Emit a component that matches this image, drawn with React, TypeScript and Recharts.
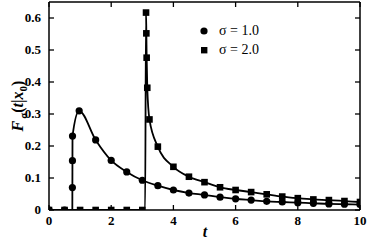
import React from 'react';
import { LineChart, Line, XAxis, YAxis, Legend } from 'recharts';

// sigma = 1.0 (circles)
const s1T = [0, 0.5, 0.75, 0.752, 0.754, 0.756, 0.97, 1.5, 2, 2.5, 3, 3.5, 4, 4.5, 5, 5.5, 6, 6.5, 7, 7.5, 8, 8.5, 9, 9.5, 10];
const s1F = [0, 0, 0, 0.07, 0.154, 0.231, 0.31, 0.219, 0.155, 0.119, 0.093, 0.076, 0.0625, 0.053, 0.047, 0.04, 0.035, 0.031, 0.027, 0.025, 0.023, 0.021, 0.019, 0.018, 0.017];
const s1NoMark = [2];

// sigma = 2.0 (squares)
const s2T = [0, 0.5, 1, 1.5, 2, 2.5, 3, 3.09, 3.12, 3.13, 3.14, 3.16, 3.23, 3.5, 4, 4.5, 5, 5.5, 6, 6.5, 7, 7.5, 8, 8.5, 9, 9.5, 10];
const s2F = [0, 0, 0, 0, 0, 0, 0, 0, 0.617, 0.552, 0.476, 0.382, 0.283, 0.198, 0.135, 0.104, 0.087, 0.071, 0.0625, 0.056, 0.049, 0.042, 0.037, 0.033, 0.031, 0.028, 0.025];
const s2NoMark = [7];

const xTicks = [0, 2, 4, 6, 8, 10];
const yTicks = [0, 0.1, 0.2, 0.3, 0.4, 0.5, 0.6];
const legendLabels = ['σ = 1.0', 'σ = 2.0'];

const s1Data = s1T.map((t, i) => ({ t, f: s1F[i], mark: !s1NoMark.includes(i) }));
const s2Data = s2T.map((t, i) => ({ t, f: s2F[i], mark: !s2NoMark.includes(i) }));

const FONT = "'Liberation Serif', 'Times New Roman', Times, serif";

const BottomTick = ({ x, y, payload }: any) => (
  <g>
    <line x1={x} y1={y} x2={x} y2={y - 5} stroke="#000" strokeWidth={1.3} />
    <text x={x} y={y + 15} textAnchor="middle" fontFamily={FONT} fontWeight="bold" fontSize={13} fill="#000">
      {payload.value}
    </text>
  </g>
);

const TopTick = ({ x, y }: any) => <line x1={x} y1={y} x2={x} y2={y + 5} stroke="#000" strokeWidth={1.3} />;

const LeftTick = ({ x, y, payload }: any) => (
  <g>
    <line x1={x} y1={y} x2={x + 5} y2={y} stroke="#000" strokeWidth={1.3} />
    <text x={x - 8} y={y + 4} textAnchor="end" fontFamily={FONT} fontWeight="bold" fontSize={13} fill="#000">
      {payload.value}
    </text>
  </g>
);

const RightTick = ({ x, y }: any) => <line x1={x} y1={y} x2={x - 5} y2={y} stroke="#000" strokeWidth={1.3} />;

const CircleDot = (props: any) => {
  const { cx, cy, payload, index } = props;
  if (!payload.mark) return <g key={`c${index}`} />;
  return <circle key={`c${index}`} cx={cx} cy={cy} r={3.6} fill="#000" />;
};

const SquareDot = (props: any) => {
  const { cx, cy, payload, index } = props;
  if (!payload.mark) return <g key={`s${index}`} />;
  return <rect key={`s${index}`} x={cx - 3.3} y={cy - 3.3} width={6.6} height={6.6} fill="#000" />;
};

const LegendBox = () => (
  <div style={{ fontFamily: FONT, fontSize: 14, color: '#000', lineHeight: '19px' }}>
    {legendLabels.map((label, i) => (
      <div key={label} style={{ display: 'flex', alignItems: 'center' }}>
        <svg width={13} height={10} style={{ marginRight: 7 }}>
          {i === 0 ? <circle cx={5} cy={5} r={3.6} fill="#000" /> : <rect x={2} y={2} width={6.4} height={6.4} fill="#000" />}
        </svg>
        <span>{label}</span>
      </div>
    ))}
  </div>
);

const YLabel = () => (
  <text transform="rotate(-90)" x={-106} y={23} textAnchor="middle" fontFamily={FONT} fontWeight="bold" fontSize={16} fill="#000">
    <tspan fontStyle="italic">F</tspan>
    <tspan fontSize={11} dy={4} dx={2}>σ</tspan>
    <tspan dy={-4}>(</tspan>
    <tspan fontStyle="italic">t</tspan>
    <tspan>|</tspan>
    <tspan fontStyle="italic">x</tspan>
    <tspan fontSize={11} dy={4}>0</tspan>
    <tspan dy={-4}>)</tspan>
  </text>
);

const XLabel = () => (
  <text x={205} y={237} textAnchor="middle" fontFamily={FONT} fontWeight="bold" fontStyle="italic" fontSize={16} fill="#000">
    t
  </text>
);

const axisStroke = { stroke: '#000', strokeWidth: 1.5 };

export default function App() {
  return (
    <div style={{ position: 'absolute', left: 0, top: 0, width: 368, height: 240, background: '#fff' }}>
      <LineChart width={368} height={240} margin={{ top: 1, right: 7, bottom: 0, left: 0 }}>
        <XAxis
          xAxisId="b"
          dataKey="t"
          type="number"
          domain={[0, 10]}
          ticks={xTicks}
          allowDataOverflow
          height={30}
          tickSize={0}
          tickMargin={0}
          tickLine={false}
          axisLine={axisStroke}
          tick={<BottomTick />}
          label={{ content: () => <XLabel /> }}
        />
        <XAxis
          xAxisId="top"
          orientation="top"
          dataKey="t"
          type="number"
          domain={[0, 10]}
          ticks={xTicks}
          allowDataOverflow
          height={1}
          tickSize={0}
          tickMargin={0}
          tickLine={false}
          axisLine={axisStroke}
          tick={<TopTick />}
        />
        <YAxis
          yAxisId="l"
          type="number"
          domain={[0, 0.65]}
          ticks={yTicks}
          allowDataOverflow
          width={49}
          tickSize={0}
          tickMargin={0}
          tickLine={false}
          axisLine={axisStroke}
          tick={<LeftTick />}
          label={{ content: () => <YLabel /> }}
        />
        <YAxis
          yAxisId="r"
          orientation="right"
          type="number"
          domain={[0, 0.65]}
          ticks={yTicks}
          allowDataOverflow
          width={1}
          tickSize={0}
          tickMargin={0}
          tickLine={false}
          axisLine={axisStroke}
          tick={<RightTick />}
        />
        <Legend
          layout="vertical"
          align="center"
          verticalAlign="middle"
          content={<LegendBox />}
          wrapperStyle={{ left: 199, top: 21, width: 'auto' }}
        />
        <Line
          xAxisId="top"
          yAxisId="r"
          data={s2Data}
          dataKey="f"
          type="monotone"
          stroke="#000"
          strokeWidth={1.8}
          dot={SquareDot}
          activeDot={false}
          isAnimationActive={false}
        />
        <Line
          xAxisId="b"
          yAxisId="l"
          data={s1Data}
          dataKey="f"
          type="monotone"
          stroke="#000"
          strokeWidth={1.8}
          dot={CircleDot}
          activeDot={false}
          isAnimationActive={false}
        />
      </LineChart>
    </div>
  );
}
